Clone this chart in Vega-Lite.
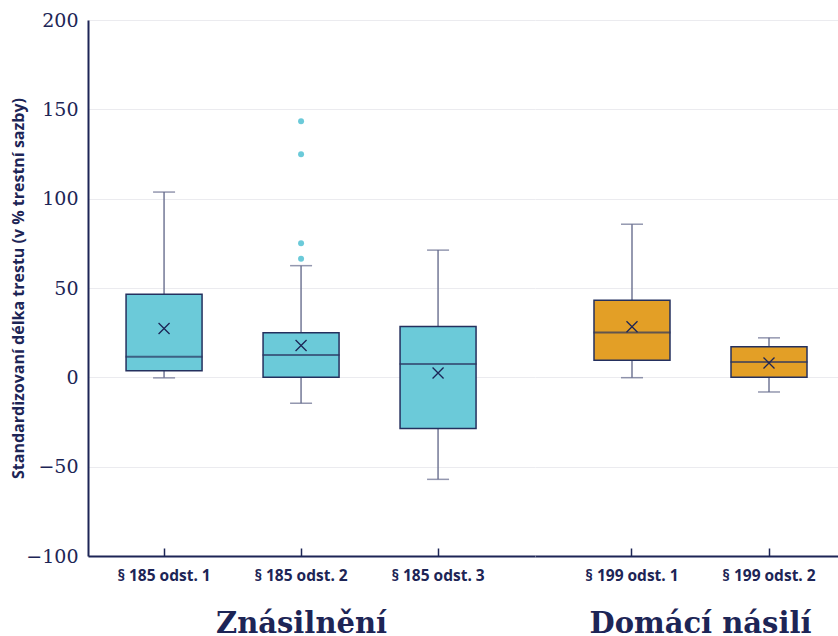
{
  "$schema": "https://vega.github.io/schema/vega-lite/v6.json",
  "autosize": {"type": "pad"},
  "padding": {"left": 9, "top": 11, "right": 0, "bottom": 0},
  "background": "white",
  "spacing": 0,
  "datasets": {
    "boxes": [
      {"skupina": "Znásilnění", "paragraf": "§ 185 odst. 1", "min": -0.3, "q1": 3.7, "median": 11.5, "q3": 46.5, "max": 103.7, "mean": 27.3},
      {"skupina": "Znásilnění", "paragraf": "§ 185 odst. 2", "min": -14.5, "q1": 0, "median": 12.5, "q3": 24.9, "max": 62.5, "mean": 17.8},
      {"skupina": "Znásilnění", "paragraf": "§ 185 odst. 3", "min": -57.1, "q1": -28.6, "median": 7.5, "q3": 28.4, "max": 71.2, "mean": 2.4},
      {"skupina": "Domácí násilí", "paragraf": "§ 199 odst. 1", "min": -0.2, "q1": 9.5, "median": 25.1, "q3": 43.2, "max": 85.7, "mean": 28.3},
      {"skupina": "Domácí násilí", "paragraf": "§ 199 odst. 2", "min": -8.2, "q1": 0, "median": 8.6, "q3": 17.1, "max": 22.1, "mean": 8.0}
    ],
    "outliers": [
      {"paragraf": "§ 185 odst. 2", "hodnota": 143.3},
      {"paragraf": "§ 185 odst. 2", "hodnota": 124.8},
      {"paragraf": "§ 185 odst. 2", "hodnota": 75.0},
      {"paragraf": "§ 185 odst. 2", "hodnota": 66.4}
    ]
  },
  "hconcat": [
    {
      "width": 447,
      "height": 536,
      "encoding": {
        "x": {
          "field": "paragraf", "type": "nominal", "sort": null,
          "scale": {"domain": ["§ 185 odst. 1", "§ 185 odst. 2", "§ 185 odst. 3"], "paddingInner": 0, "paddingOuter": 0.1314, "align": 0.21},
          "axis": {
            "title": "Znásilnění", "labelAngle": 0, "labelFont": "Open Sans", "labelFontSize": 15.5, "labelFontWeight": "bold",
            "labelPadding": 20, "tickSize": -8, "tickColor": "#1d2556", "tickWidth": 1.5,
            "titleFont": "DejaVu Serif", "titleFontSize": 29, "titleFontWeight": "bold",
            "titleX": 213, "titleY": 76, "titleBaseline": "alphabetic", "titleAlign": "center", "grid": false
          }
        }
      },
      "layer": [
        {
          "data": {"name": "boxes"},
          "transform": [{"filter": "datum.skupina === 'Znásilnění'"}],
          "mark": {"type": "rule", "color": "#737896", "strokeWidth": 1.5},
          "encoding": {
            "y": {
              "field": "min", "type": "quantitative",
              "title": "Standardizovaní délka trestu (v % trestní sazby)",
              "scale": {"domain": [-100, 200], "nice": false, "zero": false},
              "axis": {
                "values": [-100, -50, 0, 50, 100, 150, 200],
                "labelFont": "DejaVu Serif", "labelFontSize": 19, "labelPadding": 10, "ticks": false, "tickSize": 0,
                "titleFont": "Open Sans", "titleFontSize": 16, "titleFontWeight": "bold", "titleX": -62,
                "grid": true
              }
            },
            "y2": {"field": "max"}
          }
        },
        {
          "data": {"name": "boxes"},
          "transform": [{"filter": "datum.skupina === 'Znásilnění'"}],
          "mark": {"type": "tick", "color": "#656b8d", "size": 22, "thickness": 1.5},
          "encoding": {"y": {"field": "min", "type": "quantitative", "title": "Standardizovaní délka trestu (v % trestní sazby)"}}
        },
        {
          "data": {"name": "boxes"},
          "transform": [{"filter": "datum.skupina === 'Znásilnění'"}],
          "mark": {"type": "tick", "color": "#656b8d", "size": 22, "thickness": 1.5},
          "encoding": {"y": {"field": "max", "type": "quantitative", "title": "Standardizovaní délka trestu (v % trestní sazby)"}}
        },
        {
          "data": {"name": "boxes"},
          "transform": [{"filter": "datum.skupina === 'Znásilnění'"}],
          "mark": {"type": "bar", "fill": "#6bcad9", "stroke": "#24305e", "strokeWidth": 1.5, "width": 76},
          "encoding": {
            "y": {"field": "q1", "type": "quantitative", "title": "Standardizovaní délka trestu (v % trestní sazby)"},
            "y2": {"field": "q3"}
          }
        },
        {
          "data": {"name": "boxes"},
          "transform": [{"filter": "datum.skupina === 'Znásilnění'"}],
          "mark": {"type": "tick", "color": "#2a345f", "size": 77, "thickness": 2},
          "encoding": {"y": {"field": "median", "type": "quantitative", "title": "Standardizovaní délka trestu (v % trestní sazby)"}}
        },
        {
          "data": {"name": "boxes"},
          "transform": [{"filter": "datum.skupina === 'Znásilnění'"}],
          "mark": {"type": "point", "shape": "M-1,-1L1,1M1,-1L-1,1", "filled": false, "stroke": "#1d2556", "strokeWidth": 1.3, "size": 121, "opacity": 1},
          "encoding": {"y": {"field": "mean", "type": "quantitative", "title": "Standardizovaní délka trestu (v % trestní sazby)"}}
        },
        {
          "data": {"name": "outliers"},
          "mark": {"type": "circle", "color": "#6bcad9", "size": 36, "opacity": 1},
          "encoding": {"y": {"field": "hodnota", "type": "quantitative", "title": "Standardizovaní délka trestu (v % trestní sazby)"}}
        }
      ]
    },
    {
      "width": 303,
      "height": 536,
      "encoding": {
        "x": {
          "field": "paragraf", "type": "nominal", "sort": null,
          "scale": {"domain": ["§ 199 odst. 1", "§ 199 odst. 2"], "paddingInner": 0, "paddingOuter": 0.1058, "align": 0.983},
          "axis": {
            "title": "Domácí násilí", "labelAngle": 0, "labelFont": "Open Sans", "labelFontSize": 15.5, "labelFontWeight": "bold",
            "labelPadding": 20, "tickSize": -8, "tickColor": "#1d2556", "tickWidth": 1.5,
            "titleFont": "DejaVu Serif", "titleFontSize": 29, "titleFontWeight": "bold",
            "titleX": 165, "titleY": 76, "titleBaseline": "alphabetic", "titleAlign": "center", "grid": false
          }
        }
      },
      "layer": [
        {
          "data": {"name": "boxes"},
          "transform": [{"filter": "datum.skupina === 'Domácí násilí'"}],
          "mark": {"type": "rule", "color": "#737896", "strokeWidth": 1.5},
          "encoding": {
            "y": {
              "field": "min", "type": "quantitative", "title": null,
              "scale": {"domain": [-100, 200], "nice": false, "zero": false},
              "axis": {"values": [-100, -50, 0, 50, 100, 150, 200], "labels": false, "ticks": false, "domain": false, "grid": true}
            },
            "y2": {"field": "max"}
          }
        },
        {
          "data": {"name": "boxes"},
          "transform": [{"filter": "datum.skupina === 'Domácí násilí'"}],
          "mark": {"type": "tick", "color": "#656b8d", "size": 22, "thickness": 1.5},
          "encoding": {"y": {"field": "min", "type": "quantitative", "title": null}}
        },
        {
          "data": {"name": "boxes"},
          "transform": [{"filter": "datum.skupina === 'Domácí násilí'"}],
          "mark": {"type": "tick", "color": "#656b8d", "size": 22, "thickness": 1.5},
          "encoding": {"y": {"field": "max", "type": "quantitative", "title": null}}
        },
        {
          "data": {"name": "boxes"},
          "transform": [{"filter": "datum.skupina === 'Domácí násilí'"}],
          "mark": {"type": "bar", "fill": "#e39f26", "stroke": "#24305e", "strokeWidth": 1.5, "width": 76},
          "encoding": {
            "y": {"field": "q1", "type": "quantitative", "title": null},
            "y2": {"field": "q3"}
          }
        },
        {
          "data": {"name": "boxes"},
          "transform": [{"filter": "datum.skupina === 'Domácí násilí'"}],
          "mark": {"type": "tick", "color": "#2a345f", "size": 77, "thickness": 2},
          "encoding": {"y": {"field": "median", "type": "quantitative", "title": null}}
        },
        {
          "data": {"name": "boxes"},
          "transform": [{"filter": "datum.skupina === 'Domácí násilí'"}],
          "mark": {"type": "point", "shape": "M-1,-1L1,1M1,-1L-1,1", "filled": false, "stroke": "#1d2556", "strokeWidth": 1.3, "size": 121, "opacity": 1},
          "encoding": {"y": {"field": "mean", "type": "quantitative", "title": null}}
        }
      ]
    }
  ],
  "config": {
    "view": {"stroke": null},
    "axis": {
      "domainColor": "#1d2556", "domainWidth": 2,
      "gridColor": "#ebebef", "gridWidth": 1,
      "labelColor": "#1d2556", "titleColor": "#1d2556"
    }
  }
}
